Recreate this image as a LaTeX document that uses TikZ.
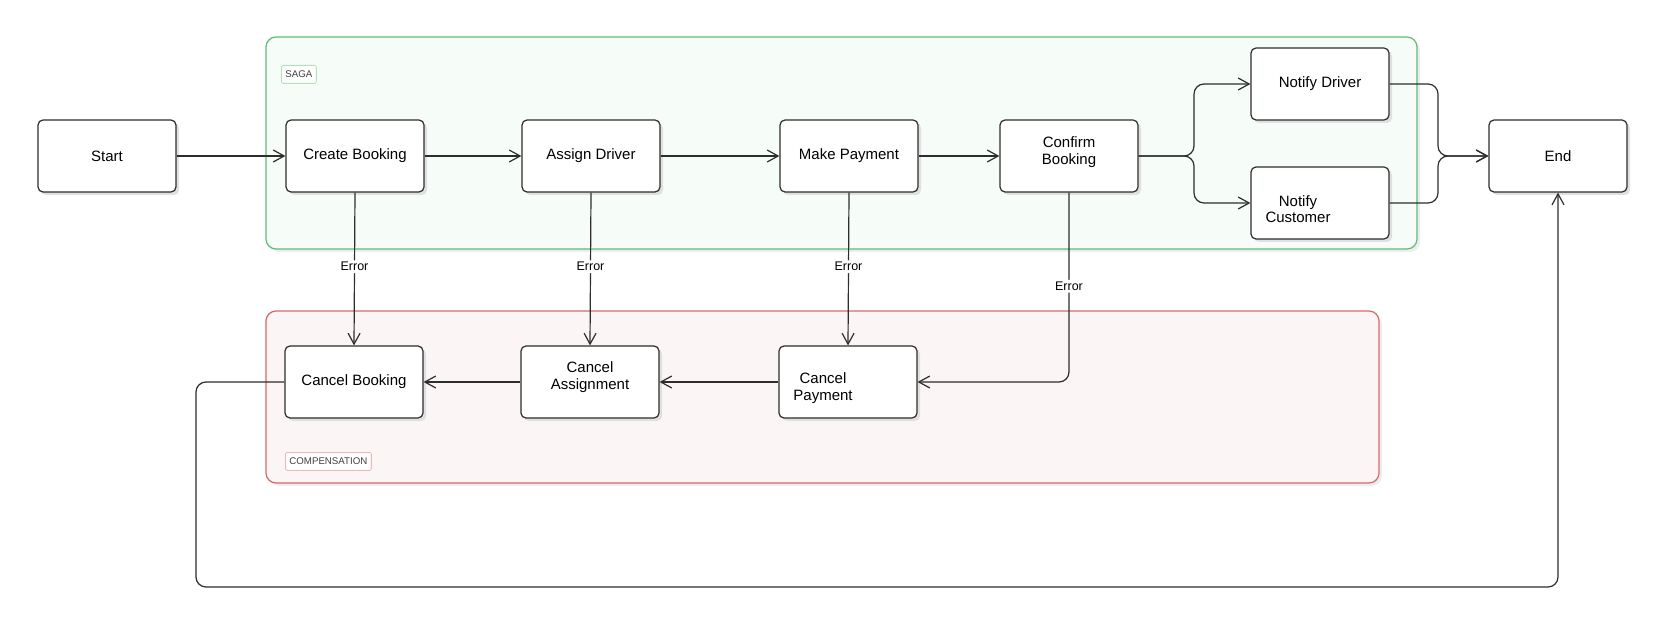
\documentclass[tikz,border=0pt]{standalone}
\usepackage{fontspec}
\setmainfont{Liberation Sans}
\usepackage{tikz}
\usetikzlibrary{
  arrows.meta,
  calc,
  positioning,
  shadows,
}
\tikzstyle{arrow} = [
  -{Straight Barb[length=11pt,width=12pt,line width=1.2pt]},
  line width=1.2pt,
  ink,
  rounded corners=10pt,
  font=\fontsize{12.5}{14}\selectfont,
  text=black,
]
\definecolor{ink}{RGB}{45, 45, 45}
\definecolor{sagaline}{RGB}{98, 186, 118}
\definecolor{sagafill}{RGB}{246, 252, 248}
\definecolor{sagatag}{RGB}{178, 224, 188}
\definecolor{compline}{RGB}{214, 104, 104}
\definecolor{compfill}{RGB}{252, 245, 245}
\definecolor{comptag}{RGB}{236, 182, 182}

\begin{document}
\begin{tikzpicture}[x=1pt, y=-1pt,
    box/.style={draw=ink, fill=white, line width=1.2pt, rounded corners=5pt,
                minimum width=138pt, minimum height=72pt, inner sep=0pt,
                align=center, font=\fontsize{15}{16.7}\selectfont,
                drop shadow={shadow xshift=3pt, shadow yshift=-3pt, fill=black!12, opacity=1}},
    group/.style={line width=1.2pt, rounded corners=10pt,
                  drop shadow={shadow xshift=3pt, shadow yshift=-3pt, fill=black!7, opacity=1}},
    tag/.style={draw, fill=white, line width=0.8pt, rounded corners=2pt, text=black!75,
                font=\fontsize{9.7}{11}\selectfont, inner xsep=4pt, minimum height=18pt},
    err/.style={fill=white, inner sep=2pt}]
  \useasboundingbox (0,0) rectangle (1679,639);

  % the two groups
  \draw [group, draw=sagaline, fill=sagafill] (266,37) rectangle (1417,249);
  \draw [group, draw=compline, fill=compfill] (266,311) rectangle (1379,483);
  \node [tag, draw=sagatag, anchor=north west] (saga) at (281,65) {SAGA};
  \node [tag, draw=comptag, anchor=north west] (comp) at (285,452) {COMPENSATION};

  % main flow
  \node [box] (start) at (107,156) {Start};
  \node [box] (create) at (355,156) {Create Booking};
  \node [box] (assign) at (591,156) {Assign Driver};
  \node [box] (payment) at (849,156) {Make Payment};
  \node [box, label={[align=center, font=\fontsize{15}{16.7}\selectfont, yshift=4pt]center:Confirm\\Booking}]
        (confirm) at (1069,156) {};
  \node [box] (notifyd) at (1320,84) {Notify Driver};
  \node [box, label={[align=center, font=\fontsize{15}{16.7}\selectfont, xshift=-22pt, yshift=-6pt]center:Notify\\Customer}]
        (notifyc) at (1320,203) {};
  \node [box] (finish) at (1558,156) {End};

  % compensation flow
  \node [box] (cbook) at (354,382) {Cancel Booking};
  \node [box, label={[align=center, font=\fontsize{15}{16.7}\selectfont, yshift=5pt]center:Cancel\\Assignment}]
        (cassign) at (590,382) {};
  \node [box, label={[align=center, font=\fontsize{15}{16.7}\selectfont, xshift=-25pt, yshift=-6pt]center:Cancel\\Payment}]
        (cpay) at (848,382) {};

  \coordinate (fork) at (1194,156);
  \coordinate (join) at (1438,156);
  \coordinate (loop) at (196,587);

  \draw [arrow] (start) -- (create);
  \draw [arrow] (create) -- (assign);
  \draw [arrow] (assign) -- (payment);
  \draw [arrow] (payment) -- (confirm);
  \draw [arrow] (confirm.east) -- (fork) |- (notifyd.west);
  \draw [arrow] (confirm.east) -- (fork) |- (notifyc.west);
  \draw [arrow] (notifyd.east) -| (join) -- (finish.west);
  \draw [arrow] (notifyc.east) -| (join) -- (finish.west);

  \draw [arrow] (create.south) -- node [err, pos=0.485] {Error} (cbook.north);
  \draw [arrow] (assign.south) -- node [err, pos=0.485] {Error} (cassign.north);
  \draw [arrow] (payment.south) -- node [err, pos=0.485] {Error} (cpay.north);
  \draw [arrow] (confirm.south) |- node [err, pos=0.247] {Error} (cpay.east);

  \draw [arrow] (cpay) -- (cassign);
  \draw [arrow] (cassign) -- (cbook);
  \draw [arrow] (cbook.west) -| (loop) -| (finish.south);
\end{tikzpicture}
\end{document}
